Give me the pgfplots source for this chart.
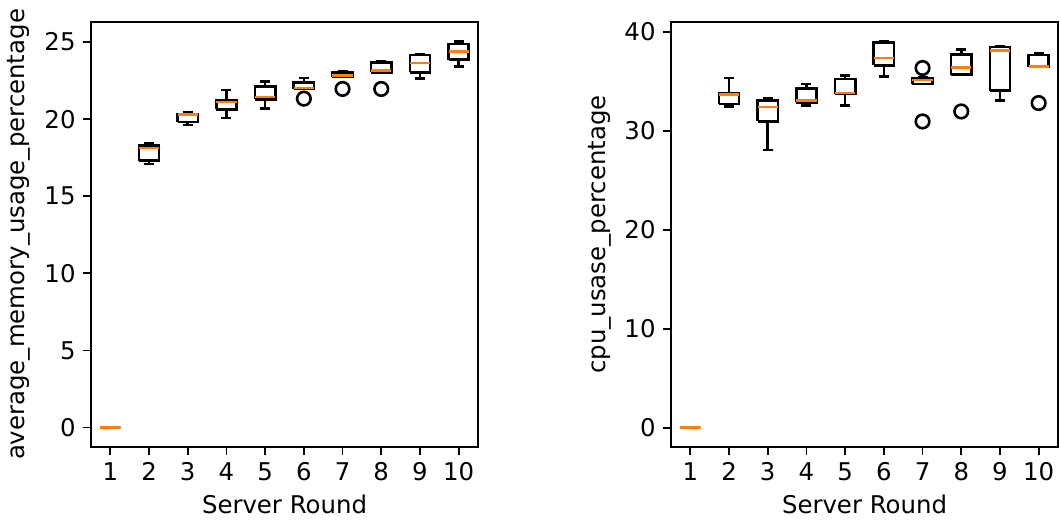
\documentclass[border=0pt]{standalone}
\usepackage{fontspec}
\setmainfont{DejaVu Sans}
\usepackage{pgfplots}
\pgfplotsset{compat=1.18}
\definecolor{mplorange}{HTML}{FF7F0E}

\pgfplotsset{
  panel/.style={
    scale only axis,
    width=193.5pt, height=212.5pt,
    xmin=0.5, xmax=10.5,
    xtick={1,...,10},
    clip mode=individual,
    tick pos=left,
    tick align=outside,
    major tick length=4.2pt,
    tick style={black, line width=0.9pt},
    axis line style={line width=0.95pt},
    /pgf/number format/assume math mode=true,
    tick label style={font=\fontsize{12.2}{14}\selectfont},
    label style={font=\fontsize{12.2}{14}\selectfont},
    xlabel={Server Round},
  },
  bxline/.style={black, line width=1.3pt, no markers, line join=miter},
  bxmed/.style={mplorange, line width=1.3pt, no markers},
  bxout/.style={only marks, mark=o, mark size=3.4pt, mark options={black, line width=1.3pt}},
}

% box: position, lower whisker, lower quartile, median, upper quartile, upper whisker
\newcommand{\bx}[6]{%
  \pgfmathsetmacro\bxL{#1-0.26}\pgfmathsetmacro\bxR{#1+0.26}%
  \pgfmathsetmacro\cpL{#1-0.13}\pgfmathsetmacro\cpR{#1+0.13}%
  \addplot[bxline] coordinates {(\bxL,#3) (\bxR,#3) (\bxR,#5) (\bxL,#5) (\bxL,#3)};
  \addplot[bxline] coordinates {(#1,#3) (#1,#2)};
  \addplot[bxline] coordinates {(#1,#5) (#1,#6)};
  \addplot[bxline] coordinates {(\cpL,#2) (\cpR,#2)};
  \addplot[bxline] coordinates {(\cpL,#6) (\cpR,#6)};
  \addplot[bxmed] coordinates {(\bxL,#4) (\bxR,#4)};
}

\begin{document}
\begin{tikzpicture}

\begin{axis}[panel, at={(45.5pt,40pt)}, anchor=south west,
    ymin=-1.26, ymax=26.3, ytick={0,5,10,15,20,25},
    ylabel={average\_memory\_usage\_percentage}]
\bx{1}{0}{0}{0}{0}{0}
\bx{2}{17.10}{17.30}{18.12}{18.29}{18.42}
\bx{3}{19.62}{19.81}{20.30}{20.33}{20.42}
\bx{4}{20.07}{20.64}{21.11}{21.24}{21.88}
\bx{5}{20.70}{21.29}{21.44}{22.12}{22.44}
\bx{6}{21.96}{21.96}{22.02}{22.38}{22.68}
\bx{7}{22.74}{22.74}{22.85}{23.03}{23.09}
\bx{8}{23.03}{23.03}{23.14}{23.68}{23.72}
\bx{9}{22.64}{23.03}{23.65}{24.15}{24.22}
\bx{10}{23.42}{23.85}{24.37}{24.87}{25.04}
\addplot[bxout] coordinates {(6,21.33) (7,21.96) (8,21.96)};
\end{axis}

\begin{axis}[panel, at={(335.5pt,40pt)}, anchor=south west,
    ymin=-1.95, ymax=41.0, ytick={0,10,20,30,40},
    ylabel={cpu\_usase\_percentage}]
\bx{1}{0}{0}{0}{0}{0}
\bx{2}{32.47}{32.71}{33.65}{33.82}{35.34}
\bx{3}{28.05}{30.95}{32.40}{33.04}{33.25}
\bx{4}{32.57}{32.87}{33.04}{34.26}{34.73}
\bx{5}{32.54}{33.75}{33.82}{35.24}{35.57}
\bx{6}{35.50}{36.62}{37.37}{38.95}{39.02}
\bx{7}{34.73}{34.73}{35.14}{35.34}{35.40}
\bx{8}{35.68}{35.68}{36.42}{37.70}{38.21}
\bx{9}{33.04}{34.06}{38.14}{38.48}{38.58}
\bx{10}{36.49}{36.49}{36.49}{37.67}{37.80}
\addplot[bxout] coordinates {(7,36.35) (7,30.95) (8,31.96) (10,32.81)};
\end{axis}

\pgfresetboundingbox
\useasboundingbox (0,0) rectangle (530pt,263.5pt);
\end{tikzpicture}
\end{document}
